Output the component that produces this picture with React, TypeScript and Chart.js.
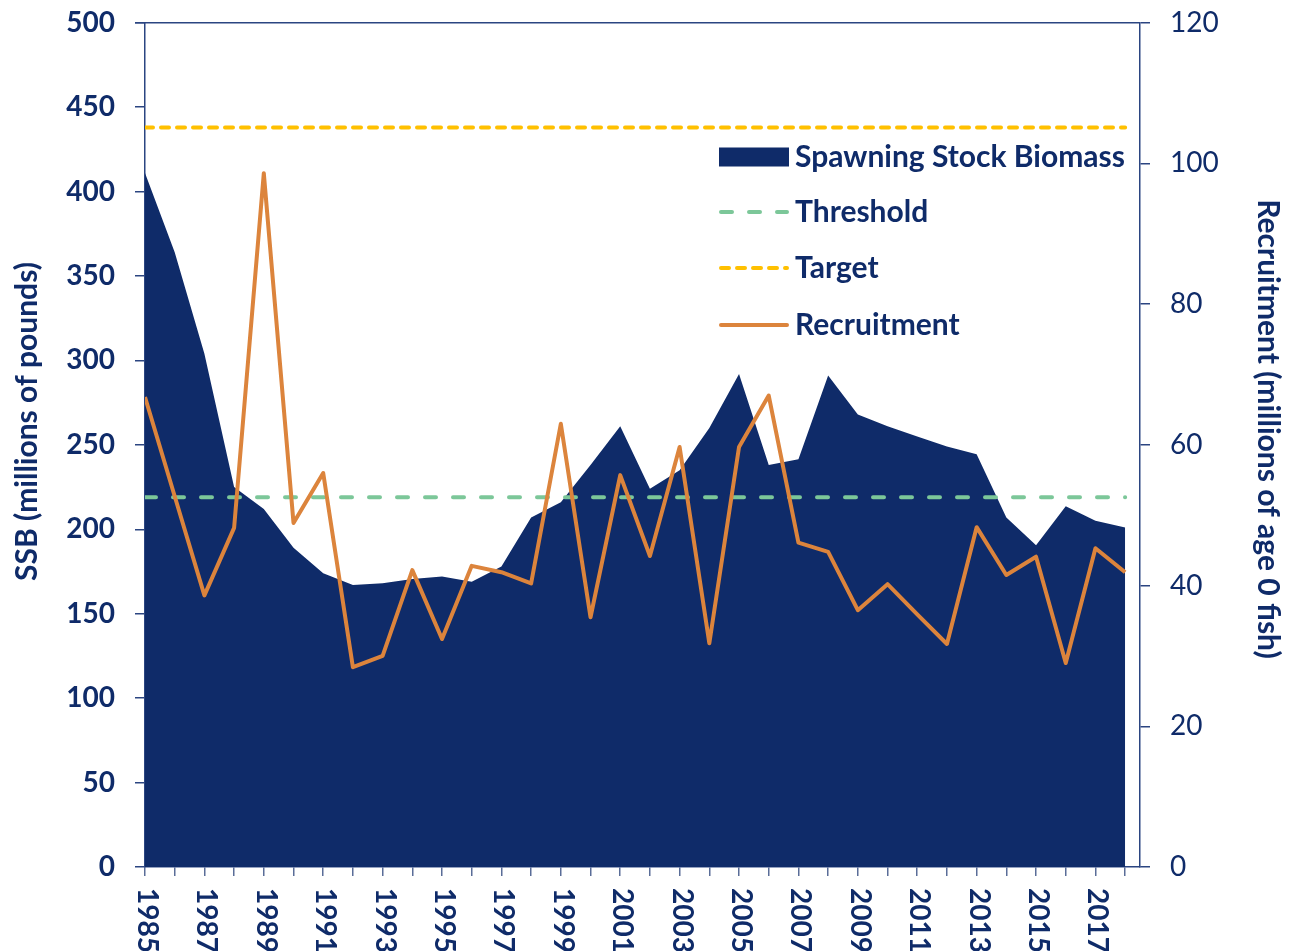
import React, { useEffect, useRef } from "react";
import { Chart, registerables } from "chart.js";

Chart.register(...registerables);

// ---------- data ----------
const years = [
  1985, 1986, 1987, 1988, 1989, 1990, 1991, 1992, 1993, 1994, 1995, 1996,
  1997, 1998, 1999, 2000, 2001, 2002, 2003, 2004, 2005, 2006, 2007, 2008,
  2009, 2010, 2011, 2012, 2013, 2014, 2015, 2016, 2017, 2018,
];
// Spawning stock biomass (millions of pounds)
const ssb = [
  411, 364, 304, 225, 212, 189, 174, 167, 168, 170.5, 172, 169,
  178, 207, 216, 238, 261, 224, 235, 260, 292, 238, 241.5, 291,
  268, 261, 255, 249, 244.5, 207, 190.6, 213.7, 205, 201,
];
// Recruitment (millions of age 0 fish)
const recruitment = [
  66.8, 52.7, 38.6, 48.2, 98.6, 48.9, 56.0, 28.4, 30.0, 42.2, 32.4, 42.8,
  41.9, 40.3, 63.0, 35.5, 55.7, 44.2, 59.7, 31.8, 59.7, 67.0, 46.1, 44.8,
  36.5, 40.2, 35.9, 31.7, 48.3, 41.5, 44.1, 29.0, 45.3, 41.9,
];
const THRESHOLD = 219;
const TARGET = 438;
const labelYears = [1985, 1987, 1989, 1991, 1993, 1995, 1997, 1999, 2001, 2003, 2005, 2007, 2009, 2011, 2013, 2015, 2017];
const legendLabels = ["Spawning Stock Biomass", "Threshold", "Target", "Recruitment"];
const leftTitle = "SSB (millions of pounds)";
const rightTitle = "Recruitment (millions of age 0 fish)";

// ---------- styles ----------
const NAVY = "#0f2b69";
const AXIS = "#2b4581";
const TICK_X = "#5a6d98";
const ORANGE = "#dc843c";
const GREEN = "#7cc799";
const GOLD = "#ffc000";
const FONT = "Lato";
const FS = 28;
const FS_T = 30;
const DASH_THRESHOLD = [11, 17];
const DASH_TARGET = [8, 8];

const overlayPlugin = {
  id: "overlay",
  afterDraw(chart: any) {
    const { ctx, chartArea } = chart;
    const xs = chart.scales.x;
    ctx.save();
    // top border
    ctx.strokeStyle = AXIS;
    ctx.lineWidth = 1.5;
    ctx.beginPath();
    ctx.moveTo(chartArea.left - 10, chartArea.top);
    ctx.lineTo(chartArea.right, chartArea.top);
    ctx.stroke();

    // x labels rotated +90
    ctx.font = `bold ${FS}px ${FONT}`;
    ctx.fillStyle = NAVY;
    ctx.textAlign = "left";
    ctx.textBaseline = "middle";
    for (const yr of labelYears) {
      const px = xs.getPixelForValue(yr);
      ctx.save();
      ctx.translate(px + 2, xs.top + 21);
      ctx.rotate(Math.PI / 2);
      ctx.fillText(String(yr), 0, 0);
      ctx.restore();
    }

    // axis titles
    ctx.font = `bold ${FS_T}px ${FONT}`;
    ctx.textAlign = "center";
    ctx.save();
    ctx.translate(27, 421.5);
    ctx.rotate(-Math.PI / 2);
    ctx.fillText(leftTitle, 0, 0);
    ctx.restore();
    ctx.save();
    ctx.translate(1268, 429);
    ctx.rotate(Math.PI / 2);
    ctx.fillText(rightTitle, 0, 0);
    ctx.restore();

    // legend
    const lx0 = 719, lx1 = 789, tx = 795;
    const rows = [157, 212, 268, 325];
    ctx.textAlign = "left";
    ctx.fillStyle = NAVY;
    ctx.fillRect(lx0, rows[0] - 9.5, lx1 - lx0, 19);
    ctx.lineWidth = 4;
    ctx.lineCap = "round";
    ctx.strokeStyle = GREEN;
    ctx.setLineDash(DASH_THRESHOLD);
    ctx.beginPath(); ctx.moveTo(lx0 + 2, rows[1]); ctx.lineTo(lx1 - 2, rows[1]); ctx.stroke();
    ctx.strokeStyle = GOLD;
    ctx.setLineDash(DASH_TARGET);
    ctx.beginPath(); ctx.moveTo(lx0 + 2, rows[2]); ctx.lineTo(lx1 - 2, rows[2]); ctx.stroke();
    ctx.strokeStyle = ORANGE;
    ctx.setLineDash([]);
    ctx.beginPath(); ctx.moveTo(lx0 + 2, rows[3]); ctx.lineTo(lx1 - 2, rows[3]); ctx.stroke();
    ctx.fillStyle = NAVY;
    legendLabels.forEach((t, i) => ctx.fillText(t, tx, rows[i]));
    ctx.restore();
  },
};

export default function App() {
  const ref = useRef<HTMLCanvasElement | null>(null);
  useEffect(() => {
    document.body.style.margin = "0";
    const canvas = ref.current!;
    const first = years[0];
    const last = years[years.length - 1];
    const chart = new Chart(canvas, {
      type: "line",
      data: {
        datasets: [
          {
            label: legendLabels[3],
            data: years.map((x, i) => ({ x, y: recruitment[i] })),
            yAxisID: "y1",
            borderColor: ORANGE,
            borderWidth: 4,
            borderJoinStyle: "round",
            pointRadius: 0,
            fill: false,
            order: 0,
          },
          {
            label: legendLabels[1],
            data: [{ x: first, y: THRESHOLD }, { x: last, y: THRESHOLD }],
            yAxisID: "y",
            borderColor: GREEN,
            borderWidth: 4,
            borderDash: DASH_THRESHOLD,
            borderCapStyle: "round",
            pointRadius: 0,
            fill: false,
            order: 1,
          },
          {
            label: legendLabels[2],
            data: [{ x: first, y: TARGET }, { x: last, y: TARGET }],
            yAxisID: "y",
            borderColor: GOLD,
            borderWidth: 4,
            borderDash: DASH_TARGET,
            borderCapStyle: "round",
            pointRadius: 0,
            fill: false,
            order: 2,
          },
          {
            label: legendLabels[0],
            data: years.map((x, i) => ({ x, y: ssb[i] })),
            yAxisID: "y",
            borderWidth: 0,
            borderColor: NAVY,
            backgroundColor: NAVY,
            pointRadius: 0,
            fill: "origin",
            order: 3,
          },
        ],
      },
      options: {
        animation: false,
        responsive: false,
        devicePixelRatio: 1,
        layout: { padding: { top: 22.7, left: 0, right: 0, bottom: 0 } },
        plugins: { legend: { display: false }, tooltip: { enabled: false } },
        scales: {
          x: {
            type: "linear",
            min: first,
            max: last + 0.5,
            afterFit: (s: any) => { s.height = 84; s.paddingLeft = 0; s.paddingRight = 0; },
            ticks: { stepSize: 1, includeBounds: false, display: false },
            grid: { display: true, drawOnChartArea: false, drawTicks: true, tickLength: 9, color: TICK_X, lineWidth: 1.5 },
            border: { display: true, color: AXIS, width: 1.5 },
          },
          y: {
            position: "left",
            min: 0,
            max: 500,
            afterFit: (s: any) => { s.width = 145; s.paddingTop = 0; s.paddingBottom = 0; },
            ticks: { stepSize: 50, padding: 20, color: NAVY, font: { family: FONT, size: FS, weight: "bold" } },
            grid: { drawOnChartArea: false, drawTicks: true, tickLength: 10, color: AXIS, lineWidth: 1.5 },
            border: { display: true, color: AXIS, width: 1.5 },
          },
          y1: {
            position: "right",
            min: 0,
            max: 120,
            afterFit: (s: any) => { s.width = 157; s.paddingTop = 0; s.paddingBottom = 0; },
            ticks: { stepSize: 20, padding: 20, color: NAVY, font: { family: FONT, size: FS, weight: "normal" } },
            grid: { drawOnChartArea: false, drawTicks: true, tickLength: 10, color: AXIS, lineWidth: 1.5 },
            border: { display: true, color: AXIS, width: 1.5 },
          },
        },
      },
      plugins: [overlayPlugin],
    });
    return () => chart.destroy();
  }, []);
  return (
    <div style={{ width: 1297, height: 951 }}>
      <canvas ref={ref} width={1297} height={951} style={{ display: "block" }} />
    </div>
  );
}
